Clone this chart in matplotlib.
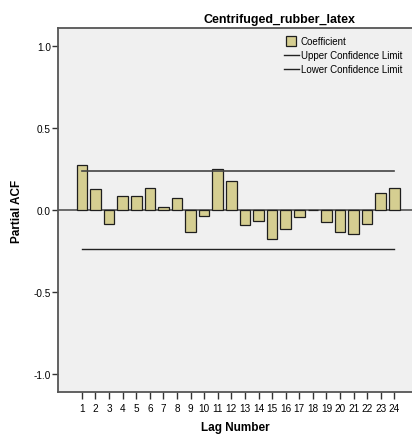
import matplotlib
matplotlib.use("Agg")
import matplotlib.pyplot as plt
from matplotlib.lines import Line2D

plt.rcParams['font.family'] = ['Liberation Sans', 'DejaVu Sans']

lags = list(range(1, 25))
pacf = [0.274, 0.126, -0.085, 0.083, 0.083, 0.134, 0.016, 0.071, -0.136, -0.039,
        0.250, 0.175, -0.093, -0.067, -0.175, -0.114, -0.045, 0.0, -0.075, -0.132,
        -0.144, -0.083, 0.102, 0.136]
upper_cl = 0.238
lower_cl = -0.238
yticks = [-1.0, -0.5, 0.0, 0.5, 1.0]

bar_color = '#d5ce91'

fig = plt.figure(figsize=(4.12, 4.35), dpi=100)
fig.patch.set_facecolor('white')
ax = fig.add_axes([58/412, 42/435, 1 - 58/412, 364/435])
ax.set_facecolor('#f0f0f0')

ax.axhline(0, color='#555555', lw=1.2, zorder=1)
ax.bar(lags, pacf, width=0.78, color=bar_color, edgecolor='#1e1e1e', lw=0.9, zorder=2)
ax.plot([lags[0], lags[-1]], [upper_cl, upper_cl], color='#444444', lw=1.2, zorder=3)
ax.plot([lags[0], lags[-1]], [lower_cl, lower_cl], color='#222222', lw=1.0, zorder=3)

ax.set_xlim(-0.76, 25.3)
ax.set_ylim(-1.11, 1.11)
ax.set_xticks(lags)
ax.set_xticklabels([str(l) for l in lags], fontsize=7.2)
ax.set_yticks(yticks)
ax.set_yticklabels([f"{t:.1f}" for t in yticks], fontsize=7.2)
ax.tick_params(axis='x', length=5, width=1.0, color='#333333', pad=3)
ax.tick_params(axis='y', length=4, width=1.0, color='#333333', pad=1)

for side in ['left', 'bottom', 'top']:
    ax.spines[side].set_color('#555555')
    ax.spines[side].set_linewidth(1.3)
ax.spines['right'].set_visible(False)

ax.set_ylabel('Partial ACF', fontsize=8.5, fontweight='bold', labelpad=8)
ax.set_xlabel('Lag Number', fontsize=8.5, fontweight='bold', labelpad=6)
fig.text(280/412, 1 - 20/435, 'Centrifuged_rubber_latex', fontsize=9,
         fontweight='bold', ha='center', va='center')

handles = [Line2D([], [], ls='none', marker='s', markersize=7,
                  markerfacecolor=bar_color, markeredgecolor='#1e1e1e', markeredgewidth=0.9),
           Line2D([], [], color='#222222', lw=1.0),
           Line2D([], [], color='#222222', lw=1.0)]
labels = ['Coefficient', 'Upper Confidence Limit', 'Lower Confidence Limit']
ax.legend(handles, labels, loc='upper left',
          bbox_to_anchor=((284 - 58) / 354, 1 - 8 / 364),
          frameon=False, fontsize=7.0, handlelength=1.5, handletextpad=0.2,
          labelspacing=0.42, borderpad=0.0, borderaxespad=0)

fig.savefig('out.png', dpi=100)
